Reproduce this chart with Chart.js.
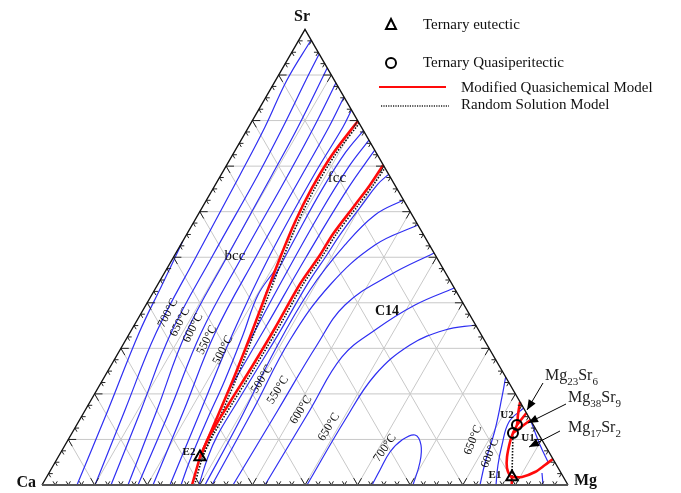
<!DOCTYPE html>
<html>
<head>
<meta charset="utf-8">
<script src="https://cdn.jsdelivr.net/npm/chart.js@4/dist/chart.umd.min.js"></script>
<style>
html,body{margin:0;padding:0;background:#fff;overflow:hidden}
canvas{display:block}
</style>
</head>
<body>
<canvas id="c" width="681" height="493"></canvas>
<script>
// Ca–Mg–Sr liquidus projection.
// Every point is [x(Mg), x(Sr)] in mole fraction; x(Ca) = 1 − x(Mg) − x(Sr).

// ---- bcc liquidus isotherms (Ca-rich side) ----
const bcc800 = [[.0665,0],[.0432,.1647],[.0176,.3337],[.0086,.4391],[0,.535]];
const bcc750 = [[.1008,0],[.0755,.1647],[.0499,.3337],[.0423,.5049],[.0361,.6806],[.0310,.7859],[.0212,.8891],[.0231,.9769]];
const bcc700 = [[.1312,0],[.1059,.1647],[.0784,.3337],[.0727,.5049],[.0703,.6806],[.0652,.7859],[.0573,.8891],[.0538,.9462]];
const bcc650 = [[.1635,0],[.1363,.1647],[.1070,.3337],[.1012,.5049],[.0970,.6806],[.0937,.7859],[.0845,.9155]];
const bcc600 = [[.1825,0],[.1610,.1647],[.1355,.3337],[.1297,.5049],[.1274,.6806],[.1241,.7859],[.1175,.8825]];
const bcc550 = [[.2110,0],[.1877,.1647],[.1621,.3337],[.1563,.5049],[.1540,.6806],[.1526,.7859],[.1482,.8518]];
const bcc500 = [[.2433,0],[.2200,.1647],[.1963,.3337],[.1811,.5049],[.1768,.6806],[.1792,.7859],[.1767,.8233]];
const bcc450 = [[.2643,0],[.2540,.0549],[.2423,.1427],[.2326,.2305],[.2174,.3293],[.2020,.4171],[.2070,.4720]];

// ---- fcc liquidus isotherms ----
const fccA = [[.215,.42],[.210,.55],[.208,.65],[.212,.73],[.222,.778]];
const fccB = [[.237,.30],[.232,.45],[.230,.60],[.234,.70],[.243,.757]];
const fccC = [[.251,.20],[.252,.35],[.252,.50],[.256,.65],[.265,.735]];

// ---- C14 (Mg2Ca / Mg2Sr) liquidus isotherms ----
const c14_400 = [[.2985,0],[.285,.06],[.279,.11],[.280,.18],[.282,.26],[.284,.345],[.284,.44],[.289,.505],[.292,.55],[.301,.615],[.308,.66],[.318,.682]];
const c14_450 = [[.3099,0],[.3050,.1427],[.2948,.2964],[.2955,.4281],[.3125,.5269],[.3367,.5928],[.3743,.6257]];
const c14_500 = [[.3232,0],[.3188,.1647],[.3123,.3183],[.3280,.4391],[.3696,.5269],[.4292,.5708]];
const c14_550 = [[.3631,0],[.3664,.1647],[.3691,.3074],[.3784,.3952],[.4311,.4610],[.4907,.5093]];
const c14_600 = [[.4240,0],[.4272,.1647],[.4298,.2810],[.4630,.3403],[.5115,.3952],[.5675,.4325]];
const c14_650 = [[.5038,0],[.5047,.1427],[.5123,.2415],[.5459,.3074],[.5961,.3403],[.6487,.3513]];
const c14_700 = [[.6274,0],[.6261,.0329],[.6254,.0724],[.6350,.0988],[.6542,.1098],[.6766,.0878],[.6934,.0505],[.7053,0]];

// ---- Mg-rich corner isotherms ----
const mg650 = [[.7629,.2371],[.7779,.1932],[.8008,.1207],[.8181,.0483],[.8327,0]];
const mg600 = [[.8310,.1690],[.8186,.1383],[.8306,.0878],[.8449,.0439],[.8631,0]];
const mg17A = [[.8573,.1427],[.9029,.0878],[.9368,.0505]];
const mg17B = [[.9525,0],[.9374,.0263]];

// ---- univariant lines, Modified Quasichemical Model ----
const mqm_bcc_c14 = [[.2852,0],[.2696,.0615]];
const mqm_bcc_fcc = [[.2696,.0615],[.2594,.1427],[.2478,.2305],[.2329,.3249],[.2176,.4127],[.2033,.4984],[.1923,.5774],[.1873,.6520],[.1891,.7245],[.2009,.7991]];
const mqm_fcc_c14 = [[.2696,.0615],[.2645,.1098],[.2663,.1822],[.2694,.2634],[.2707,.3447],[.2699,.4413],[.2761,.5049],[.2777,.5510],[.2877,.6147],[.2943,.6586],[.2975,.7025]];
const mqm_mg_main = [[.8178,.1822],[.8280,.1537],[.8371,.1317],[.8383,.1142],[.8425,.0944],[.8533,.0615],[.8653,.0373],[.8798,.0198],[.8847,.0176]];
const mqm_mg_e1 = [[.8847,.0176],[.9037,.0176],[.9230,.0285],[.9343,.0439],[.9429,.0571]];
const mqm_mg_u2 = [[.8371,.1317],[.8419,.1581]];
const mqm_mg_u1 = [[.8383,.1142],[.8573,.1427]];
const mqm_mg_bin = [[.8847,.0176],[.8930,0]];

// ---- univariant lines, Random Solution Model ----
const rsm_bcc_c14 = [[.2900,0],[.2740,.0615]];
const rsm_bcc_fcc = [[.2740,.0615],[.2645,.1427],[.2530,.2305],[.2380,.3249],[.2230,.4127],[.2090,.4984],[.1980,.5774],[.1930,.6520],[.1950,.7245],[.2060,.7940]];
const rsm_fcc_c14 = [[.2740,.0615],[.2705,.1098],[.2725,.1822],[.2755,.2634],[.2770,.3447],[.2760,.4413],[.2820,.5049],[.2840,.5510],[.2940,.6147],[.3005,.6586],[.3040,.6960]];
const rsm_mg = [[.8383,.1142],[.8847,.0176]];

// ---- invariant points ----
const eutecticPts = [[.2696,.0615],[.8847,.0176]];      // E2, E1
const quasiperitecticPts = [[.8371,.1317],[.8383,.1142]]; // U2, U1

// ---- text ----
const isothermLabels = [
  ['700°C',[.0507,.3776],-63],['650°C',[.0835,.3578],-63],['600°C',[.1148,.3447],-63],
  ['550°C',[.1545,.3183],-63],['500°C',[.1959,.2964],-63],
  ['500°C',[.3019,.2327],-58],['550°C',[.3444,.2086],-58],['600°C',[.4101,.1647],-58],
  ['650°C',[.4819,.1273],-58],['700°C',[.6115,.0812],-55],
  ['650°C',[.7700,.0988],-68],['600°C',[.8166,.0703],-68]
];
const phaseLabels = [['fcc',[.2238,.6740],false],['bcc',[.1155,.5027],false],['C14',[.4649,.3820],true]];
const pointLabels = [['E2',[.2433,.0724]],['E1',[.8502,.0220]],['U2',[.8071,.1537]],['U1',[.8724,.1032]]];
const compoundLabels = [
  {parts:[['Mg',0],['23',1],['Sr',0],['6',1]], at:[.8366,.2393], tail:[.8405,.2239], tip:[.8398,.1647]},
  {parts:[['Mg',0],['38',1],['Sr',0],['9',1]], at:[.9045,.1910], tail:[.9073,.1778], tip:[.8559,.1361]},
  {parts:[['Mg',0],['17',1],['Sr',0],['2',1]], at:[.9374,.1251], tail:[.9255,.1185], tip:[.8842,.0834]}
];
const legendItems = ['Ternary eutectic','Ternary Quasiperitectic','Modified Quasichemical Model','Random Solution Model'];

// ---------------------------------------------------------------
const SQ3 = Math.sqrt(3);
const toXY = ([m, s]) => ({ x: m + s / 2, y: s * SQ3 / 2 });

const BLUE = '#2f2ff2', RED = '#ff0a0a';
function curve(pts, color, width, order, dash, tension) {
  return { data: pts.map(toXY), showLine: true, borderColor: color, backgroundColor: color,
           borderWidth: width, borderDash: dash || [], pointRadius: 0, pointHoverRadius: 0,
           tension: tension === undefined ? 0.4 : tension, fill: false, order };
}
const blueSets = [bcc800,bcc750,bcc700,bcc650,bcc600,bcc550,bcc500,bcc450,fccA,fccB,fccC,
  c14_400,c14_450,c14_500,c14_550,c14_600,c14_650,c14_700,mg650,mg600,mg17A,mg17B];
const redSets = [mqm_bcc_c14,mqm_bcc_fcc,mqm_fcc_c14,mqm_mg_main,mqm_mg_e1,mqm_mg_u2,mqm_mg_u1,mqm_mg_bin];
const dotSets = [rsm_bcc_c14,rsm_bcc_fcc,rsm_fcc_c14,rsm_mg];

const datasets = [];
blueSets.forEach(p => datasets.push(curve(p, BLUE, 1.2, 4)));
dotSets.forEach(p => datasets.push(curve(p, '#111', 1.6, 3, [1.5, 1.5], 0.3)));
redSets.forEach(p => datasets.push(curve(p, RED, 2.6, 2, [], 0.3)));
datasets.push({ data: eutecticPts.map(toXY), showLine: false, pointStyle: 'triangle', pointRadius: 6.5,
  borderColor: '#000', pointBorderColor: '#000', backgroundColor: 'rgba(0,0,0,0)', pointBackgroundColor: 'rgba(0,0,0,0)',
  borderWidth: 2, pointBorderWidth: 2, order: 0 });
datasets.push({ data: quasiperitecticPts.map(toXY), showLine: false, pointStyle: 'circle', pointRadius: 5,
  borderColor: '#000', pointBorderColor: '#000', backgroundColor: 'rgba(0,0,0,0)', pointBackgroundColor: 'rgba(0,0,0,0)',
  borderWidth: 2, pointBorderWidth: 2, order: 0 });

const SERIF = '"Liberation Serif","Times New Roman",serif';

const ternaryFrame = {
  id: 'ternaryFrame',
  beforeDatasetsDraw(chart) {
    const { ctx } = chart;
    const P = pos(chart);
    ctx.save();
    ctx.strokeStyle = '#c8c8c8';
    ctx.lineWidth = 1;
    for (let k = 1; k < 10; k++) {
      const v = k / 10;
      seg(ctx, P(0, v), P(1 - v, v));
      seg(ctx, P(v, 0), P(v, 1 - v));
      seg(ctx, P(1 - v, 0), P(0, 1 - v));
    }
    ctx.restore();
  },
  afterDatasetsDraw(chart) {
    const { ctx } = chart;
    const P = pos(chart);
    ctx.save();
    // ticks every 2.5 %, longer every 10 %
    ctx.strokeStyle = '#222';
    ctx.lineWidth = 1;
    for (let i = 1; i < 40; i++) {
      const t = i / 40, d = i % 4 === 0 ? 0.015 : 0.008;
      seg(ctx, P(t, 0), P(t, d)); seg(ctx, P(t, 0), P(t - d, d));
      seg(ctx, P(0, t), P(d, t)); seg(ctx, P(0, t), P(d, t - d));
      seg(ctx, P(1 - t, t), P(1 - t - d, t)); seg(ctx, P(1 - t, t), P(1 - t, t - d));
    }
    // triangle outline
    ctx.strokeStyle = '#111';
    ctx.lineWidth = 1.4;
    ctx.beginPath();
    const a = P(0, 0), b = P(1, 0), c = P(0, 1);
    ctx.moveTo(a[0], a[1]); ctx.lineTo(c[0], c[1]); ctx.lineTo(b[0], b[1]);
    ctx.stroke();
    ctx.strokeStyle = '#555'; ctx.lineWidth = 2;
    seg(ctx, a, b);

    // corner labels
    ctx.fillStyle = '#111';
    ctx.font = 'bold 16px ' + SERIF;
    ctx.textBaseline = 'middle';
    ctx.textAlign = 'center';
    ctx.fillText('Sr', c[0] - 3, c[1] - 13);
    ctx.textAlign = 'right';
    ctx.fillText('Ca', a[0] - 6, a[1] - 2);
    ctx.textAlign = 'left';
    ctx.fillText('Mg', b[0] + 6, b[1] - 4);

    // phase field labels
    ctx.textAlign = 'center';
    phaseLabels.forEach(([t, at, bold]) => {
      ctx.font = (bold ? 'bold 14px ' : '15px ') + SERIF;
      const p = P(at[0], at[1]);
      ctx.fillText(t, p[0], p[1]);
    });

    // isotherm labels
    ctx.font = '12px ' + SERIF;
    isothermLabels.forEach(([t, at, ang]) => {
      const p = P(at[0], at[1]);
      ctx.save();
      ctx.translate(p[0], p[1]);
      ctx.rotate(ang * Math.PI / 180);
      ctx.fillText(t, 0, 0);
      ctx.restore();
    });

    // invariant point labels
    ctx.font = 'bold 11px ' + SERIF;
    pointLabels.forEach(([t, at]) => {
      const p = P(at[0], at[1]);
      ctx.fillText(t, p[0], p[1]);
    });

    // compound labels with arrows
    compoundLabels.forEach(c => {
      const p = P(c.at[0], c.at[1]);
      let x = p[0];
      ctx.textAlign = 'left';
      c.parts.forEach(([t, sub]) => {
        ctx.font = (sub ? '11px ' : '16px ') + SERIF;
        ctx.fillStyle = '#222';
        ctx.fillText(t, x, p[1] + (sub ? 6 : 0));
        x += ctx.measureText(t).width;
      });
      arrow(ctx, P(c.tail[0], c.tail[1]), P(c.tip[0], c.tip[1]));
    });

    // legend
    ctx.fillStyle = '#111';
    ctx.textAlign = 'left';
    ctx.font = '15px ' + SERIF;
    ctx.strokeStyle = '#000';
    ctx.lineWidth = 2;
    ctx.beginPath();
    ctx.moveTo(391, 19); ctx.lineTo(396, 29); ctx.lineTo(386, 29); ctx.closePath();
    ctx.stroke();
    ctx.fillText(legendItems[0], 423, 25);
    ctx.beginPath();
    ctx.arc(391, 63, 5, 0, Math.PI * 2);
    ctx.stroke();
    ctx.fillText(legendItems[1], 423, 63);
    ctx.strokeStyle = RED; ctx.lineWidth = 2;
    seg(ctx, [379, 87], [446, 87]);
    ctx.fillText(legendItems[2], 461, 88);
    ctx.strokeStyle = '#222'; ctx.lineWidth = 1.6; ctx.setLineDash([1.2, 1.2]);
    seg(ctx, [381, 106], [449, 106]);
    ctx.setLineDash([]);
    ctx.fillText(legendItems[3], 461, 105);
    ctx.restore();
  }
};

function pos(chart) {
  const xs = chart.scales.x, ys = chart.scales.y;
  return (m, s) => [xs.getPixelForValue(m + s / 2), ys.getPixelForValue(s * SQ3 / 2)];
}
function seg(ctx, p, q) {
  ctx.beginPath(); ctx.moveTo(p[0], p[1]); ctx.lineTo(q[0], q[1]); ctx.stroke();
}
function arrow(ctx, p, q) {
  ctx.save();
  ctx.strokeStyle = '#000'; ctx.fillStyle = '#000'; ctx.lineWidth = 1;
  seg(ctx, p, q);
  const ang = Math.atan2(q[1] - p[1], q[0] - p[0]), L = 10, W = 4;
  ctx.beginPath();
  ctx.moveTo(q[0], q[1]);
  ctx.lineTo(q[0] - L * Math.cos(ang) + W * Math.sin(ang), q[1] - L * Math.sin(ang) - W * Math.cos(ang));
  ctx.lineTo(q[0] - L * Math.cos(ang) - W * Math.sin(ang), q[1] - L * Math.sin(ang) + W * Math.cos(ang));
  ctx.closePath(); ctx.fill();
  ctx.restore();
}

new Chart(document.getElementById('c'), {
  type: 'scatter',
  data: { datasets },
  options: {
    responsive: false,
    animation: false,
    events: [],
    layout: { padding: 0, autoPadding: false },
    plugins: { legend: { display: false }, tooltip: { enabled: false }, title: { display: false } },
    scales: {
      x: { type: 'linear', display: false, min: -42 / 526, max: 639 / 526 },
      y: { type: 'linear', display: false, min: -8 / 526, max: 485 / 526 }
    }
  },
  plugins: [ternaryFrame]
});
</script>
</body>
</html>
